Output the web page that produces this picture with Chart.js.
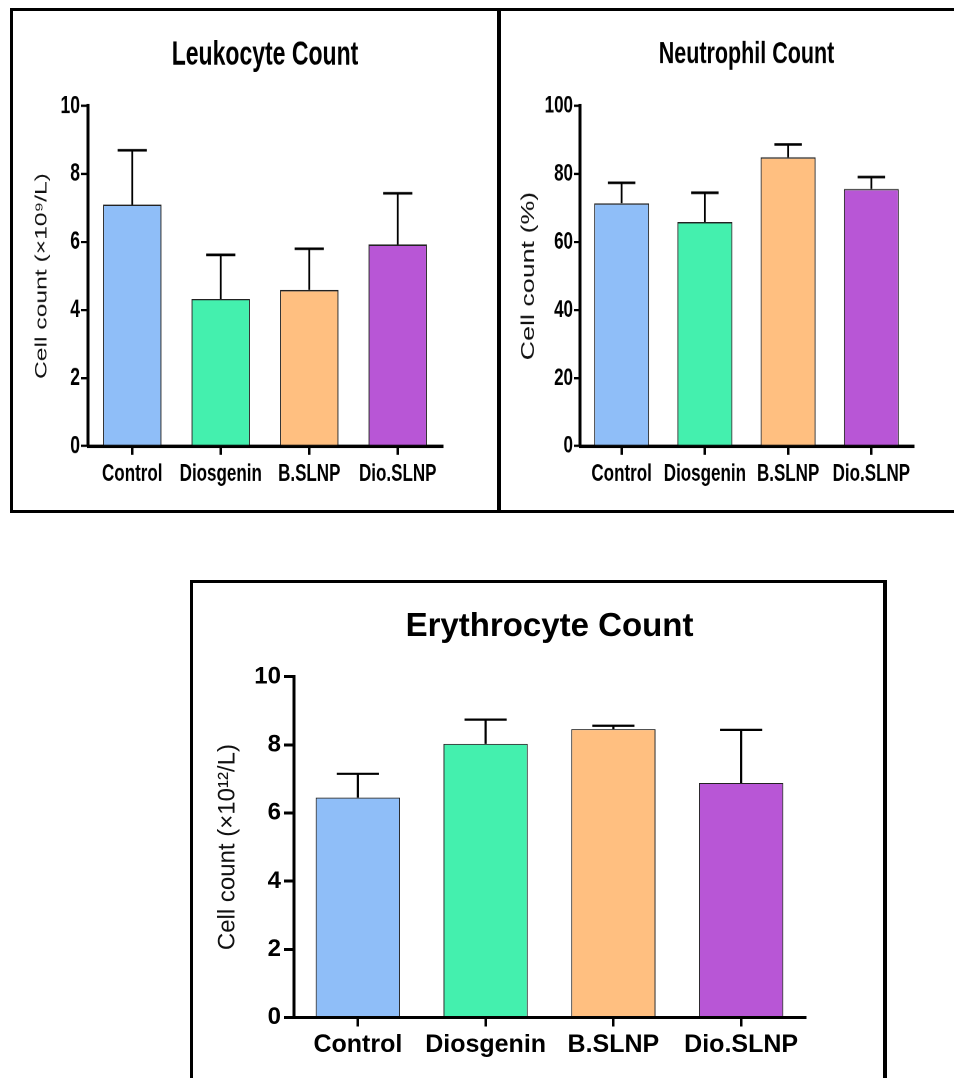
<!DOCTYPE html>
<html>
<head>
<meta charset="utf-8">
<script src="https://cdn.jsdelivr.net/npm/chart.js@4.4.1/dist/chart.umd.min.js"></script>
<style>
  html, body { margin: 0; padding: 0; background: #fff; overflow: hidden; }
  body { width: 954px; height: 1078px; position: relative; }
  .line { position: absolute; background: #000; }
  /* the two upper panels are vertically stretched in the source figure */
  .stretch { position: absolute; transform-origin: 0 0; transform: scaleY(1.45); }
  canvas { display: block; }
</style>
</head>
<body>
<!-- upper panel frame -->
<div class="line" style="left:10px;top:8px;width:944px;height:3px"></div>
<div class="line" style="left:10px;top:510px;width:944px;height:3px"></div>
<div class="line" style="left:10px;top:8px;width:3px;height:505px"></div>
<div class="line" style="left:497px;top:8px;width:4px;height:505px"></div>
<!-- lower panel frame -->
<div class="line" style="left:190px;top:580px;width:697px;height:3px"></div>
<div class="line" style="left:190px;top:580px;width:3px;height:498px"></div>
<div class="line" style="left:883px;top:580px;width:4px;height:498px"></div>

<div class="stretch" style="left:13px;top:11px;width:484px;height:344px"><canvas id="leuko" width="484" height="344"></canvas></div>
<div class="stretch" style="left:501px;top:11px;width:453px;height:344px"><canvas id="neut" width="453" height="344"></canvas></div>
<div style="position:absolute;left:193px;top:583px;width:690px;height:495px"><canvas id="ery" width="690" height="495"></canvas></div>

<script>
// groups and colours
const groups = ['Control', 'Diosgenin', 'B.SLNP', 'Dio.SLNP'];
const barColors = ['#8fbef8', '#44f0ae', '#ffbf80', '#b856d6'];

// mean and upper error (SEM)
const leukocyteMean = [7.10, 4.33, 4.59, 5.93];
const leukocyteErr  = [1.60, 1.29, 1.21, 1.50];

const neutrophilMean = [71.4, 65.9, 84.9, 75.6];
const neutrophilErr  = [6.0, 8.6, 3.8, 3.5];

const erythrocyteMean = [6.45, 8.03, 8.46, 6.88];
const erythrocyteErr  = [0.70, 0.71, 0.10, 1.56];

const FONT = "'Liberation Sans', Arial, Helvetica, sans-serif";

// upward-only error bars with a cap half the bar width
const errorBars = {
  id: 'errorBars',
  afterDatasetsDraw(chart, args, opts) {
    const ctx = chart.ctx;
    const yScale = chart.scales.y;
    const mean = chart.data.datasets[0].data;
    const meta = chart.getDatasetMeta(0);
    ctx.save();
    ctx.strokeStyle = '#000';
    ctx.lineWidth = opts.width;
    meta.data.forEach((bar, i) => {
      const y0 = yScale.getPixelForValue(mean[i]);
      const y1 = yScale.getPixelForValue(mean[i] + opts.err[i]);
      const half = bar.width / 4;
      ctx.beginPath();
      ctx.moveTo(bar.x, y0);
      ctx.lineTo(bar.x, y1);
      ctx.moveTo(bar.x - half, y1);
      ctx.lineTo(bar.x + half, y1);
      ctx.stroke();
    });
    ctx.restore();
  }
};

function drawPanel(id, c) {
  return new Chart(document.getElementById(id), {
    type: 'bar',
    data: {
      labels: groups,
      datasets: [{
        data: c.mean,
        backgroundColor: barColors,
        borderColor: '#222',
        borderWidth: 1,
        categoryPercentage: 1,
        barPercentage: 0.66
      }]
    },
    plugins: [errorBars],
    options: {
      responsive: false,
      devicePixelRatio: 2,
      animation: false,
      events: [],
      layout: { padding: { left: 0, right: c.padRight, top: 0, bottom: 0 } },
      plugins: {
        legend: { display: false },
        tooltip: { enabled: false },
        title: {
          display: true,
          text: c.title,
          fullSize: false,
          color: '#000',
          font: { family: FONT, size: c.titleSize, weight: 'bold', lineHeight: 1 },
          padding: { top: c.titleTop, bottom: c.titleBottom }
        },
        errorBars: { err: c.err, width: c.errWidth }
      },
      scales: {
        x: {
          grid: {
            offset: false, drawOnChartArea: false, drawTicks: true,
            tickLength: c.xTick, color: '#000', lineWidth: c.xTickWidth
          },
          border: { display: true, color: '#000', width: c.xAxisWidth },
          ticks: {
            color: '#000', padding: c.xPad, maxRotation: 0, autoSkip: false,
            font: { family: FONT, size: c.xFont, weight: 'bold' }
          },
          afterFit(s) { s.height = c.xHeight; }
        },
        y: {
          min: 0, max: c.yMax,
          grid: {
            drawOnChartArea: false, drawTicks: true,
            tickLength: c.yTick, color: '#000', lineWidth: c.yTickWidth
          },
          border: { display: true, color: '#000', width: c.yAxisWidth },
          ticks: {
            stepSize: c.yStep, color: '#000', padding: c.yPad,
            font: { family: FONT, size: c.yFont, weight: 'bold' }
          },
          title: {
            display: true,
            text: c.yTitle,
            color: '#111',
            font: { family: FONT, size: c.yTitleSize, weight: 'normal', lineHeight: 1.2 },
            padding: { top: c.yTitlePad, bottom: 0 }
          },
          afterFit(s) { s.width = c.yWidth; }
        }
      }
    }
  });
}

drawPanel('leuko', {
  mean: leukocyteMean, err: leukocyteErr, errWidth: 1.8,
  title: 'Leukocyte Count', titleSize: 23, titleTop: 19, titleBottom: 23.5,
  yTitle: 'Cell count (×10⁹/L)', yTitleSize: 17, yTitlePad: 18.8,
  yMax: 10, yStep: 2, yFont: 17.5, yTick: 7, yPad: 1, yTickWidth: 1.6, yAxisWidth: 3, yWidth: 75,
  xFont: 17, xTick: 6, xPad: 3.2, xTickWidth: 2.5, xAxisWidth: 2.5, xHeight: 44,
  padRight: 55
});

drawPanel('neut', {
  mean: neutrophilMean, err: neutrophilErr, errWidth: 1.8,
  title: 'Neutrophil Count', titleSize: 21.5, titleTop: 19.5, titleBottom: 24.5,
  yTitle: 'Cell count (%)', yTitleSize: 18.5, yTitlePad: 16.9,
  yMax: 100, yStep: 20, yFont: 17, yTick: 6, yPad: 1, yTickWidth: 1.6, yAxisWidth: 3, yWidth: 79,
  xFont: 17, xTick: 6, xPad: 3.2, xTickWidth: 2.5, xAxisWidth: 2.5, xHeight: 44,
  padRight: 41
});

drawPanel('ery', {
  mean: erythrocyteMean, err: erythrocyteErr, errWidth: 2.2,
  title: 'Erythrocyte Count', titleSize: 33, titleTop: 27.5, titleBottom: 33.2,
  yTitle: 'Cell count (×10¹²/L)', yTitleSize: 24, yTitlePad: 20.6,
  yMax: 10, yStep: 2, yFont: 24, yTick: 10, yPad: 3, yTickWidth: 3, yAxisWidth: 3, yWidth: 101,
  xFont: 25, xTick: 9, xPad: 3.5, xTickWidth: 2.5, xAxisWidth: 3, xHeight: 60.5,
  padRight: 78
});
</script>
</body>
</html>
